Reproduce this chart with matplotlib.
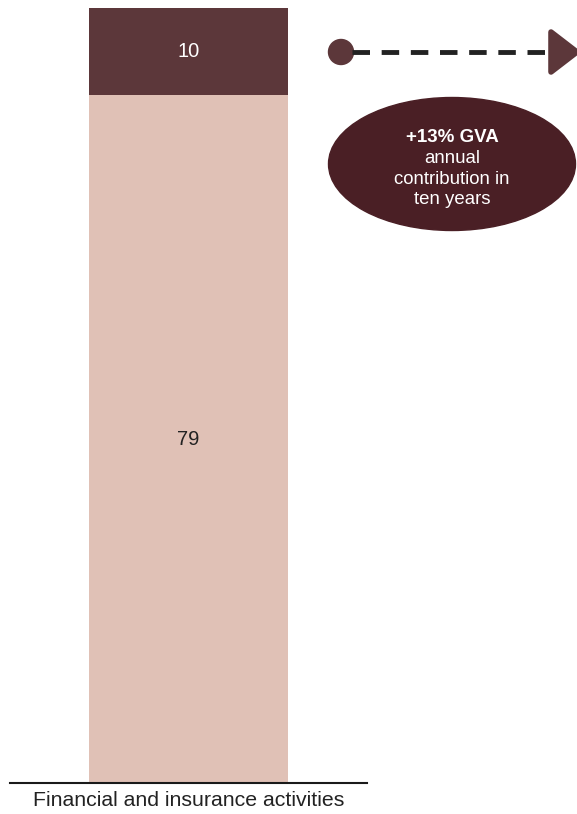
import matplotlib.pyplot as plt
from matplotlib.patches import Ellipse, Circle, Polygon

plt.rcParams['font.family'] = ['Liberation Sans', 'DejaVu Sans']

# stacked bar values
category = 'Financial and insurance activities'
base_value = 79
added_value = 10
base_color = '#E0C1B6'
added_color = '#5C373A'

W, H = 577, 814
fig = plt.figure(figsize=(W / 100, H / 100), dpi=100)

# bar axes: pixel box x 10..367, y 8..783
ax = fig.add_axes([10 / W, 1 - 783 / H, 357 / W, 775 / H])
ax.bar([0], [base_value], width=0.56, color=base_color)
ax.bar([0], [added_value], bottom=[base_value], width=0.56, color=added_color)
ax.set_xlim(-0.5, 0.5)
ax.set_ylim(0, base_value + added_value)
ax.text(0, base_value / 2, f'{base_value}', ha='center', va='center',
        fontsize=14.5, color='#222222')
ax.text(0, base_value + added_value / 2, f'{added_value}', ha='center', va='center',
        fontsize=14.5, color='white')
for s in ['top', 'right', 'left']:
    ax.spines[s].set_visible(False)
ax.spines['bottom'].set_linewidth(1.5)
ax.spines['bottom'].set_color('#1a1a1a')
ax.set_yticks([])
ax.set_xticks([0])
ax.set_xticklabels([category], fontsize=15.3, color='#222222')
ax.tick_params(axis='x', length=0, pad=6)

# overlay in pixel units for the callout
ov = fig.add_axes([0, 0, 1, 1])
ov.set_xlim(0, W)
ov.set_ylim(H, 0)
ov.axis('off')

ov.plot([352, 552], [52, 52], color='#222222', lw=3.5, ls=(0, (3.6, 2.4)))
ov.add_patch(Circle((341, 52), 12.5, color=added_color))
ov.add_patch(Polygon([[551, 32], [577, 52], [551, 72]], closed=True,
                     color=added_color, joinstyle='round', lw=4))

ov.add_patch(Ellipse((452, 164), 247, 133, color='#4A1F25'))
ov.text(452, 137, '+13% GVA', ha='center', va='center', fontsize=13.5,
        fontweight='bold', color='white')
ov.text(452, 179, 'annual\ncontribution in\nten years', ha='center', va='center',
        fontsize=13.4, color='white', linespacing=1.25)

fig.savefig('out.png', dpi=100)
